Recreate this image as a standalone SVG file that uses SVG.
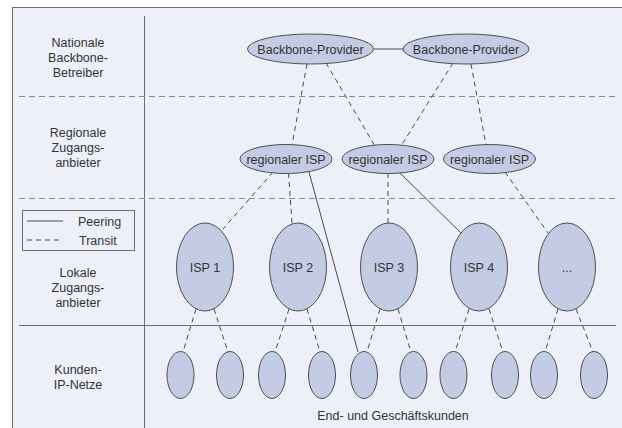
<svg xmlns="http://www.w3.org/2000/svg" width="622" height="428" viewBox="0 0 622 428">
  <style>
    .bg { fill: #edf0f9; stroke: #6e6e6e; stroke-width: 1; }
    .node ellipse { fill: #c4cbe5; stroke: #4f4f4f; stroke-width: 1; }
    text { font-family: "Liberation Sans", Arial, sans-serif; font-size: 12.5px; fill: #333; }
    .c { text-anchor: middle; }
    .rule { stroke: #6e6e6e; stroke-width: 1; fill: none; }
    .sep { stroke: #8a8a8a; stroke-width: 1; stroke-dasharray: 6 4; fill: none; }
    .peer { stroke: #4a4a4a; stroke-width: 1; fill: none; }
    .transit { stroke: #4a4a4a; stroke-width: 1; stroke-dasharray: 5 4; fill: none; }
  </style>

  <!-- frame and layer grid -->
  <g id="frame">
    <rect class="bg" x="12.5" y="7.5" width="620" height="430"/>
    <line class="rule" x1="144.5" y1="16" x2="144.5" y2="428"/>
    <line class="sep" x1="19" y1="96.5" x2="616" y2="96.5"/>
    <line class="sep" x1="19" y1="198.5" x2="616" y2="198.5"/>
    <line class="rule" x1="19" y1="325.5" x2="616" y2="325.5"/>
  </g>

  <!-- layer labels -->
  <g id="labels">
    <text class="c" x="78" y="47">Nationale</text>
    <text class="c" x="78" y="62">Backbone-</text>
    <text class="c" x="78" y="77">Betreiber</text>
    <text class="c" x="78" y="137">Regionale</text>
    <text class="c" x="78" y="152">Zugangs-</text>
    <text class="c" x="78" y="167">anbieter</text>
    <text class="c" x="78" y="277">Lokale</text>
    <text class="c" x="78" y="292">Zugangs-</text>
    <text class="c" x="78" y="307">anbieter</text>
    <text class="c" x="78" y="374">Kunden-</text>
    <text class="c" x="78" y="389">IP-Netze</text>
    <text class="c" x="393" y="420">End- und Geschäftskunden</text>
  </g>

  <!-- legend -->
  <g id="legend">
    <rect x="22.5" y="210.5" width="112" height="40" fill="none" stroke="#6e6e6e" stroke-width="1"/>
    <line class="peer" x1="27" y1="221" x2="63" y2="221"/>
    <line class="transit" x1="27" y1="240" x2="63" y2="240" stroke-dasharray="5 3"/>
    <text x="78" y="226">Peering</text>
    <text x="79" y="245">Transit</text>
  </g>

  <!-- connectors -->
  <g id="connectors">
    <line class="peer" x1="374" y1="49" x2="403" y2="49"/>
    <line class="transit" x1="307" y1="64" x2="292" y2="145"/>
    <line class="transit" x1="326" y1="63" x2="375" y2="146"/>
    <line class="transit" x1="453" y1="63" x2="401" y2="146"/>
    <line class="transit" x1="471" y1="64" x2="486" y2="145"/>

    <line class="transit" x1="273" y1="172" x2="223" y2="229"/>
    <line class="transit" x1="288.5" y1="173" x2="292" y2="223"/>
    <line class="peer" x1="309" y1="172" x2="358" y2="352"/>
    <line class="transit" x1="388" y1="173" x2="388" y2="223"/>
    <line class="peer" x1="399" y1="172" x2="461" y2="233"/>
    <line class="transit" x1="505" y1="172" x2="548" y2="233"/>

    <line class="transit" x1="196" y1="309" x2="183" y2="352"/>
    <line class="transit" x1="214" y1="309" x2="228" y2="352"/>
    <line class="transit" x1="289" y1="309" x2="275" y2="352"/>
    <line class="transit" x1="307" y1="309" x2="320" y2="352"/>
    <line class="transit" x1="380" y1="309" x2="367" y2="352"/>
    <line class="transit" x1="398" y1="309" x2="411" y2="352"/>
    <line class="transit" x1="469" y1="309" x2="455" y2="352"/>
    <line class="transit" x1="489" y1="309" x2="503" y2="352"/>
    <line class="transit" x1="558" y1="309" x2="545" y2="352"/>
    <line class="transit" x1="576" y1="309" x2="593" y2="352"/>
  </g>

  <!-- backbone providers -->
  <g id="backbone1" class="node">
    <ellipse cx="310.5" cy="49" rx="63" ry="15"/>
    <text class="c" x="310.5" y="53.5">Backbone-Provider</text>
  </g>
  <g id="backbone2" class="node">
    <ellipse cx="466" cy="49" rx="63" ry="15"/>
    <text class="c" x="466" y="53.5">Backbone-Provider</text>
  </g>

  <!-- regional ISPs -->
  <g id="regional1" class="node">
    <ellipse cx="286" cy="159" rx="46" ry="14.5"/>
    <text class="c" x="286" y="163.5">regionaler ISP</text>
  </g>
  <g id="regional2" class="node">
    <ellipse cx="388" cy="159" rx="46" ry="14.5"/>
    <text class="c" x="388" y="163.5">regionaler ISP</text>
  </g>
  <g id="regional3" class="node">
    <ellipse cx="489.5" cy="159" rx="46" ry="14.5"/>
    <text class="c" x="489.5" y="163.5">regionaler ISP</text>
  </g>

  <!-- local ISPs -->
  <g id="isp1" class="node">
    <ellipse cx="205" cy="267" rx="28.5" ry="44"/>
    <text class="c" x="205" y="271.5">ISP 1</text>
  </g>
  <g id="isp2" class="node">
    <ellipse cx="298" cy="267" rx="28.5" ry="44"/>
    <text class="c" x="298" y="271.5">ISP 2</text>
  </g>
  <g id="isp3" class="node">
    <ellipse cx="389" cy="267" rx="28.5" ry="44"/>
    <text class="c" x="389" y="271.5">ISP 3</text>
  </g>
  <g id="isp4" class="node">
    <ellipse cx="479" cy="267" rx="28.5" ry="44"/>
    <text class="c" x="479" y="271.5">ISP 4</text>
  </g>
  <g id="isp5" class="node">
    <ellipse cx="567" cy="267" rx="28.5" ry="44"/>
    <text class="c" x="567" y="271.5">...</text>
  </g>

  <!-- customer IP networks -->
  <g id="cust1" class="node"><ellipse cx="180.5" cy="375" rx="13.5" ry="23.5"/></g>
  <g id="cust2" class="node"><ellipse cx="230" cy="375" rx="13.5" ry="23.5"/></g>
  <g id="cust3" class="node"><ellipse cx="272" cy="375" rx="13.5" ry="23.5"/></g>
  <g id="cust4" class="node"><ellipse cx="322" cy="375" rx="13.5" ry="23.5"/></g>
  <g id="cust5" class="node"><ellipse cx="364" cy="375" rx="13.5" ry="23.5"/></g>
  <g id="cust6" class="node"><ellipse cx="413.5" cy="375" rx="13.5" ry="23.5"/></g>
  <g id="cust7" class="node"><ellipse cx="453.5" cy="375" rx="13.5" ry="23.5"/></g>
  <g id="cust8" class="node"><ellipse cx="505" cy="375" rx="13.5" ry="23.5"/></g>
  <g id="cust9" class="node"><ellipse cx="544" cy="375" rx="13.5" ry="23.5"/></g>
  <g id="cust10" class="node"><ellipse cx="594" cy="375" rx="13.5" ry="23.5"/></g>
</svg>
